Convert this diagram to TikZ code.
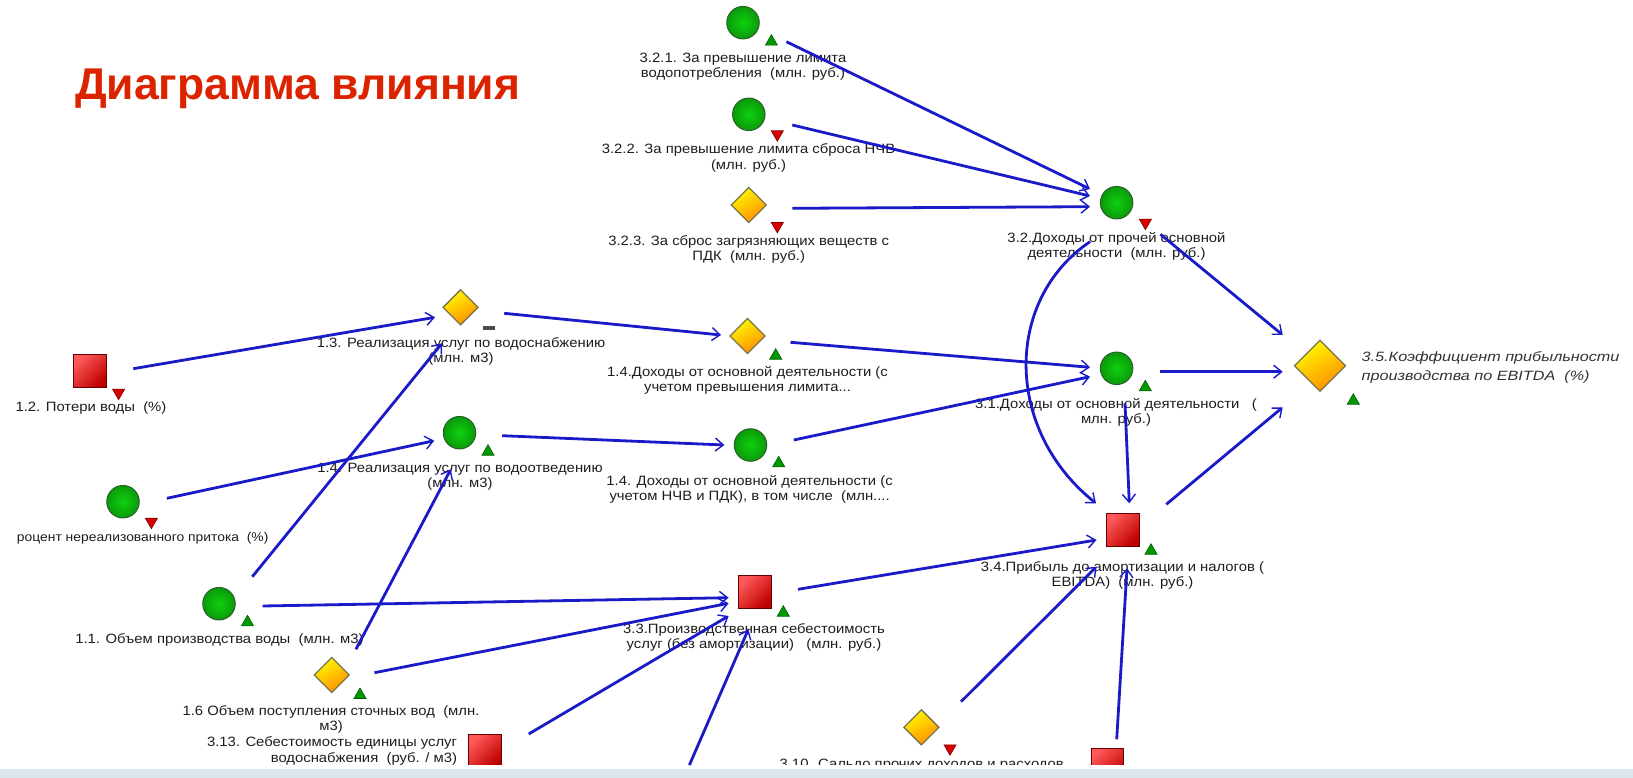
\documentclass[tikz,border=0pt]{standalone}
\usepackage{fontspec}
\setmainfont{Liberation Sans}
\newfontfamily\labfont[FakeStretch=1.1]{Liberation Sans}
\newfontfamily\wideit[FakeStretch=1.2]{Liberation Sans}
\usetikzlibrary{shapes.geometric,arrows.meta,calc}
\definecolor{linkblue}{HTML}{1A1AC8}
\definecolor{bandc}{HTML}{DAE5EC}
\definecolor{titlered}{HTML}{DC2300}
\definecolor{txt}{HTML}{1E1E1E}
\definecolor{gin}{HTML}{0FD00F}
\definecolor{gout}{HTML}{0B9A0B}
\definecolor{gedge}{HTML}{2A5F2A}
\tikzset{
  x=1pt,y=-1pt,
  base/.style={inner sep=0pt,outer sep=0pt},
  sqbox/.style={base,rectangle,minimum size=32.5pt,draw=red!40!black,line width=1pt,shading=axis,top color=red!65!white,bottom color=red!75!black,shading angle=45},
  circ/.style={base,circle,minimum size=32.5pt,draw=gedge,line width=1pt,inner color=gin,outer color=gout},
  dia/.style={base,diamond,minimum width=35pt,minimum height=35pt,draw=yellow!40!black,line width=1.3pt,shading=axis,top color=yellow!95!orange,bottom color=orange!90!yellow,shading angle=30},
  bigdia/.style={dia,minimum width=51pt,minimum height=51pt},
  upt/.style={base,regular polygon,regular polygon sides=3,minimum size=14pt,draw=green!35!black,line width=.6pt,fill=green!60!black},
  dnt/.style={base,regular polygon,regular polygon sides=3,regular polygon rotate=180,minimum size=14pt,draw=red!50!black,line width=.6pt,fill=red!85!black},
  minusm/.style={base,rectangle,minimum width=12pt,minimum height=3.5pt,fill=black!70},
  lab/.style={base,align=center,yshift=-1.5pt,font=\labfont\fontsize{13.5}{15.2}\selectfont,text=txt},
  labr/.style={lab,align=right},
  arr/.style={draw=linkblue,line width=2.8pt,-{Straight Barb[length=8pt,width=13pt,line width=1.4pt]}},
}
\begin{document}
\begin{tikzpicture}
\useasboundingbox (0,0) rectangle (1633,778);
\fill[white] (0,0) rectangle (1633,778);

\node[base,anchor=base west,font=\bfseries\fontsize{44.5}{50}\selectfont,text=titlered] (title) at (75,100) {Диаграмма влияния};

% shapes and labels
\node[sqbox] (n12) at (90,371) {};
\node[dnt] (t12) at (118.6,392.7) {};
\node[lab] (l12) at (91,407) {1.2. Потери воды~~(\%)};

\node[dia] (n13) at (460.6,307.3) {};
\node[minusm] (t13) at (489,328) {};
\node[lab] (l13) at (461,350) {1.3. Реализация услуг по водоснабжению\\(млн. м3)};

\node[circ] (n14) at (459.5,432.7) {};
\node[upt] (t14) at (488,451.7) {};
\node[lab] (l14) at (460,475) {1.4. Реализация услуг по водоотведению\\(млн. м3)};

\node[circ] (npr) at (123,501.7) {};
\node[dnt] (tpr) at (151.4,521.7) {};
\node[lab,font=\labfont\fontsize{12.6}{15.2}\selectfont] (lpr) at (142.7,536.7) {роцент нереализованного притока~~(\%)};

\node[circ] (n11) at (219,603.7) {};
\node[upt] (t11) at (247.5,622.3) {};
\node[lab] (l11) at (219.5,638.7) {1.1. Объем производства воды~~(млн. м3)};

\node[dia] (n16) at (331.7,675) {};
\node[upt] (t16) at (360,695) {};
\node[lab] (l16) at (331,718) {1.6 Объем поступления сточных вод~~(млн.\\м3)};

\node[sqbox] (n313) at (485,751) {};
\node[labr,anchor=east] (l313) at (457,749.5) {3.13. Себестоимость единицы услуг\\водоснабжения~~(руб. / м3)};

\node[circ] (n321) at (743,22.7) {};
\node[upt] (t321) at (771.4,41.7) {};
\node[lab] (l321) at (743,65) {3.2.1. За превышение лимита\\водопотребления~~(млн. руб.)};

\node[circ] (n322) at (748.8,114.3) {};
\node[dnt] (t322) at (777.3,134.3) {};
\node[lab] (l322) at (748.5,156.5) {3.2.2. За превышение лимита сброса НЧВ\\(млн. руб.)};

\node[dia] (n323) at (748.8,205) {};
\node[dnt] (t323) at (777.3,226) {};
\node[lab] (l323) at (748.7,248.3) {3.2.3. За сброс загрязняющих веществ с\\ПДК~~(млн. руб.)};

\node[circ] (n32) at (1116.6,202.7) {};
\node[dnt] (t32) at (1145.4,222.7) {};
\node[lab] (l32) at (1116.5,245) {3.2.Доходы от прочей основной\\деятельности~~(млн. руб.)};

\node[dia] (n14d) at (747.5,336) {};
\node[upt] (t14d) at (775.7,355.7) {};
\node[lab] (l14d) at (747.5,379) {1.4.Доходы от основной деятельности (с\\учетом превышения лимита...};

\node[circ] (n14c) at (750.5,445) {};
\node[upt] (t14c) at (778.7,463.3) {};
\node[lab] (l14c) at (749.6,487.5) {1.4. Доходы от основной деятельности (с\\учетом НЧВ и ПДК), в том числе~~(млн....};

\node[circ] (n31) at (1116.6,368.3) {};
\node[upt] (t31) at (1145.3,387.3) {};
\node[lab] (l31) at (1116,410.5) {3.1.Доходы от основной деятельности~~~(\\млн. руб.)};

\node[sqbox] (n34) at (1123,530) {};
\node[upt] (t34) at (1151,550.7) {};
\node[lab] (l34) at (1122.5,574) {3.4.Прибыль до амортизации и налогов (\\EBITDA)~~(млн. руб.)};

\node[sqbox] (n33) at (755,592) {};
\node[upt] (t33) at (783.3,612.7) {};
\node[lab] (l33) at (754,635.7) {3.3.Производственная себестоимость\\услуг (без амортизации)~~~(млн. руб.)};

\node[bigdia] (n35) at (1320,365.7) {};
\node[upt] (t35) at (1353.3,400.7) {};
\node[lab,align=left,anchor=west,font=\wideit\itshape\fontsize{13.5}{19}\selectfont,text=black!80] (l35) at (1361.7,365.5) {3.5.Коэффициент прибыльности\\производства по EBITDA~~(\%)};

\node[dia] (n310) at (921.4,727.3) {};
\node[dnt] (t310) at (950,748.3) {};
\node[lab] (l310) at (921.7,763.5) {3.10. Сальдо прочих доходов и расходов};

\node[sqbox] (n311) at (1107.6,764.5) {};
\coordinate (src33) at (689.4,765);

% bottom cover and band
\fill[white] (0,764.7) rectangle (1633,769.3);
\fill[bandc] (0,769.3) rectangle (1633,778);

% connectors
\draw[arr] ($(n12)+(43.3,-2.3)$) -- ($(n13)+(-25.6,10)$);
\draw[arr] ($(n11)+(33.3,-27)$) -- ($(n13)+(-18.6,36)$);
\draw[arr] ($(npr)+(43.9,-3.4)$) -- ($(n14)+(-25.3,8)$);
\draw[arr] ($(n16)+(24.2,-25.7)$) -- ($(n14)+(-8.7,36.6)$);
\draw[arr] ($(n11)+(43.6,2.3)$) -- ($(n33)+(-26.4,5.7)$);
\draw[arr] ($(n16)+(42.8,-2.3)$) -- ($(n33)+(-26.4,11.3)$);
\draw[arr] ($(n313)+(43.7,-17)$) -- ($(n33)+(-26.4,24)$);
\draw[arr] (src33) -- ($(n33)+(-6.6,37.3)$);
\draw[arr] ($(n13)+(43.6,6)$) -- ($(n14d)+(-26.5,-1)$);
\draw[arr] ($(n14)+(42.7,3)$) -- ($(n14c)+(-26.1,0)$);
\draw[arr] ($(n321)+(43.4,19)$) -- ($(n32)+(-26.6,-13.7)$);
\draw[arr] ($(n322)+(43.5,10.7)$) -- ($(n32)+(-26.6,-6.7)$);
\draw[arr] ($(n323)+(43.5,3.3)$) -- ($(n32)+(-26.6,4)$);
\draw[arr] ($(n14d)+(43,6.3)$) -- ($(n31)+(-26.6,-1)$);
\draw[arr] ($(n14c)+(43.3,-5)$) -- ($(n31)+(-26.6,8.4)$);
\draw[arr] ($(n31)+(43.4,3.4)$) -- ($(n35)+(-37.3,6)$);
\draw[arr] ($(n31)+(8.4,35)$) -- ($(n34)+(6.3,-26.7)$);
\draw[arr] ($(n32)+(-26.6,39)$) .. controls ($(n32)+(-112.6,97.3)$) and ($(n34)+(-119,-100)$) .. ($(n34)+(-27,-26.7)$);
\draw[arr] ($(n32)+(43.8,31.6)$) -- ($(n35)+(-37.3,-30.7)$);
\draw[arr] ($(n34)+(43.3,-25.7)$) -- ($(n35)+(-37.3,41.6)$);
\draw[arr] ($(n33)+(43,-2.7)$) -- ($(n34)+(-26.5,10)$);
\draw[arr] ($(n310)+(39.6,-25.6)$) -- ($(n34)+(-26.5,36.7)$);
\draw[arr] ($(n311)+(9.1,-25.2)$) -- ($(n34)+(4,38.3)$);
\end{tikzpicture}
\end{document}
